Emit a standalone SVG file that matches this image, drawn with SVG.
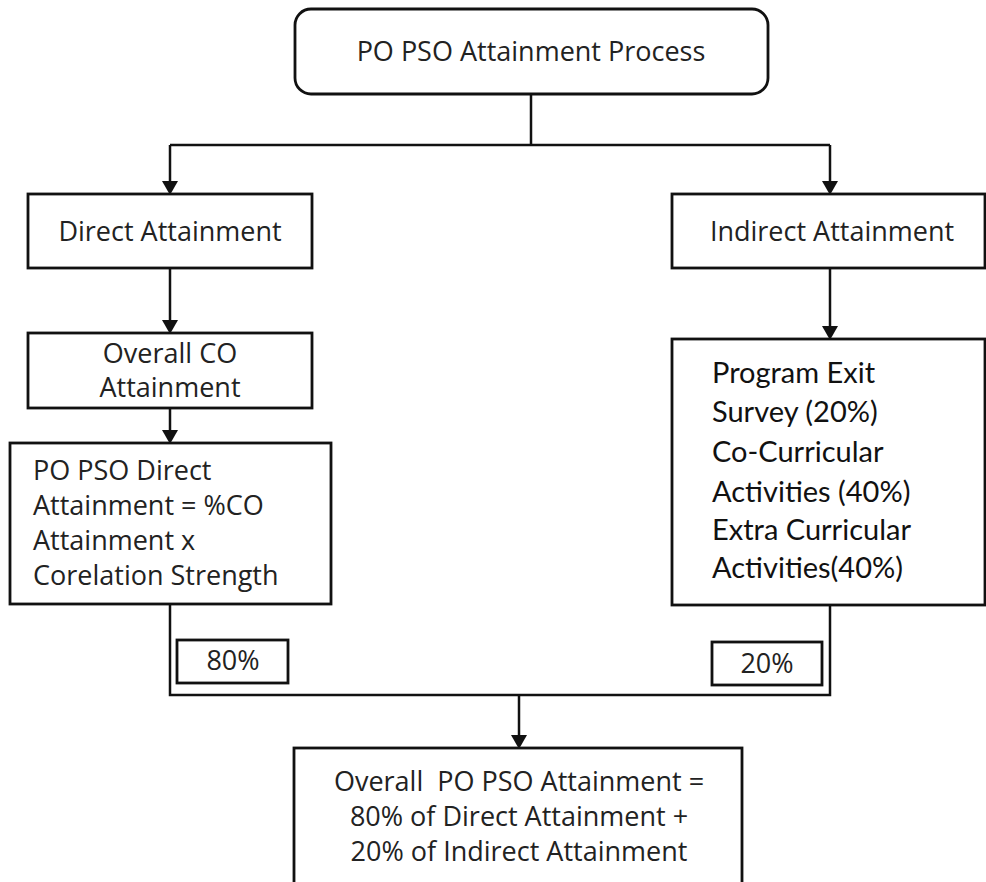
<svg xmlns="http://www.w3.org/2000/svg" width="986" height="882" viewBox="0 0 986 882">
<style>
.box{fill:#fff;stroke:#111;stroke-width:2.8}
.ln{fill:none;stroke:#111;stroke-width:2.5}
.ah{fill:#111}
.t{font-family:"Open Sans",sans-serif;font-size:27px;fill:#222}
.c{text-anchor:middle}
.r{font-family:Lato,"Open Sans",sans-serif;font-size:29px;fill:#111}
</style>
<g id="connectors">
<path class="ln" d="M531,94 V145 M170,145 H830"/>
<path class="ln" d="M170,145 V182"/>
<path class="ah" d="M162,181 L178,181 L170,195 Z"/>
<path class="ln" d="M830,145 V182"/>
<path class="ah" d="M822,181 L838,181 L830,195 Z"/>
<path class="ln" d="M170,268 V320"/>
<path class="ah" d="M162,320 L178,320 L170,334 Z"/>
<path class="ln" d="M830,268 V326"/>
<path class="ah" d="M822,326 L838,326 L830,340 Z"/>
<path class="ln" d="M170,408 V430"/>
<path class="ah" d="M162,430 L178,430 L170,444 Z"/>
<path class="ln" d="M170,604 V695 H830 V605"/>
<path class="ln" d="M519,695 V736"/>
<path class="ah" d="M511,735 L527,735 L519,749 Z"/>
</g>
<g id="n_top">
<rect class="box" x="295" y="9" width="473" height="85" rx="16"/>
<text class="t c" x="531" y="61">PO PSO Attainment Process</text>
</g>
<g id="n_direct">
<rect class="box" x="28" y="194" width="284" height="74"/>
<text class="t c" x="170" y="241">Direct Attainment</text>
</g>
<g id="n_indirect">
<rect class="box" x="672" y="194" width="313" height="74"/>
<text class="t c" x="832" y="241">Indirect Attainment</text>
</g>
<g id="n_co">
<rect class="box" x="28" y="333" width="284" height="75"/>
<text class="t c" x="170" y="363">Overall CO</text>
<text class="t c" x="170" y="397">Attainment</text>
</g>
<g id="n_podirect">
<rect class="box" x="10" y="443" width="321" height="161"/>
<text class="t" x="33" y="480">PO PSO Direct</text>
<text class="t" x="33" y="515">Attainment = %CO</text>
<text class="t" x="33" y="550">Attainment x</text>
<text class="t" x="33" y="585">Corelation Strength</text>
</g>
<g id="n_program">
<rect class="box" x="672" y="339" width="313" height="266"/>
<text class="r" x="712" y="383">Program Exit</text>
<text class="r" x="712" y="422">Survey (20%)</text>
<text class="r" x="712" y="462">Co-Curricular</text>
<text class="r" x="712" y="502">Activities (40%)</text>
<text class="r" x="712" y="540">Extra Curricular</text>
<text class="r" x="712" y="578">Activities(40%)</text>
</g>
<g id="n_80">
<rect class="box" x="177" y="640" width="111" height="43"/>
<text class="t c" x="233" y="670">80%</text>
</g>
<g id="n_20">
<rect class="box" x="712" y="642" width="110" height="43"/>
<text class="t c" x="767" y="673">20%</text>
</g>
<g id="n_overall">
<rect class="box" x="294" y="748" width="448" height="150"/>
<text class="t c" x="519" y="791">Overall&#160; PO PSO Attainment =</text>
<text class="t c" x="519" y="826">80% of Direct Attainment +</text>
<text class="t c" x="519" y="861">20% of Indirect Attainment</text>
</g>
</svg>
